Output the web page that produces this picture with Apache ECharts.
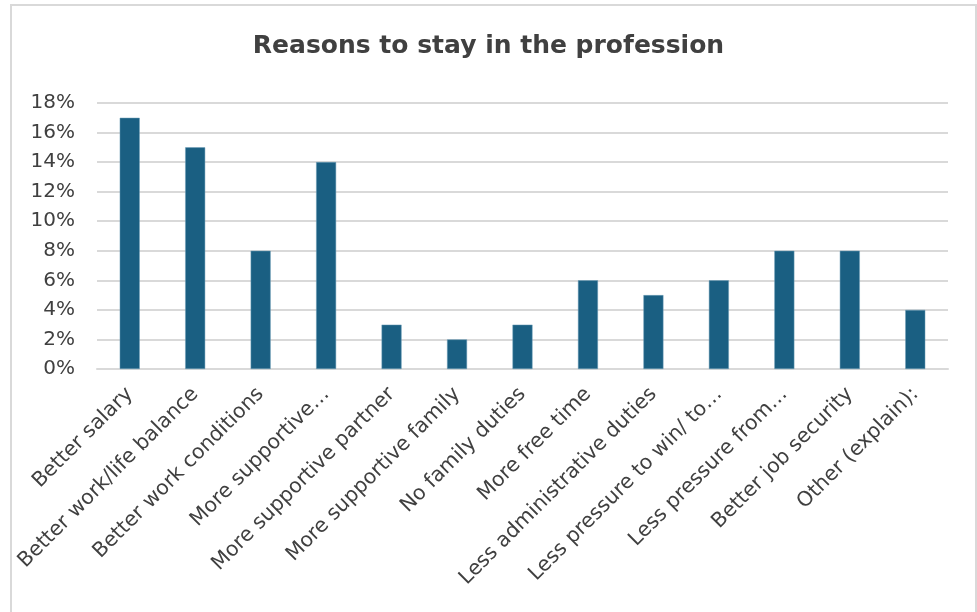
<!DOCTYPE html>
<html><head><meta charset="utf-8">
<script src="https://cdn.jsdelivr.net/npm/echarts@6/dist/echarts.min.js"></script>
<style>html,body{margin:0;padding:0;background:#fff}#c{width:977px;height:612px}</style>
</head><body><div id="c"></div>
<script>
var categories = ["Better salary","Better work/life balance","Better work conditions","More supportive…","More supportive partner","More supportive family","No family duties","More free time","Less administrative duties","Less pressure to win/ to…","Less pressure from…","Better job security","Other (explain):"];
var values = [17,15,8,14,3,2,3,6,5,6,8,8,4];
var yTicks = {min:0, max:18, interval:2};
var titleText = "Reasons to stay in the profession";

var chart = echarts.init(document.getElementById('c'), null, {renderer:'canvas'});
chart.setOption({
  animation:false,
  backgroundColor:'#fff',
  textStyle:{fontFamily:'DejaVu Sans'},
  graphic:[{type:'rect', shape:{x:11,y:5,width:965,height:640}, style:{fill:'none', stroke:'#d9d9d9', lineWidth:2}, silent:true}],
  title:{text:titleText, left:'center', top:29, textStyle:{fontFamily:'DejaVu Sans', fontWeight:'bold', fontSize:25, color:'#404040'}},
  grid:{left:97, right:29, top:103, bottom:243, containLabel:false},
  xAxis:{type:'category', data:categories,
    axisLine:{lineStyle:{color:'#d9d9d9', width:2}}, axisTick:{show:false},
    axisLabel:{rotate:45, interval:0, color:'#404040', fontSize:20.5, margin:22, fontFamily:'DejaVu Sans'}},
  yAxis:{type:'value', min:yTicks.min, max:yTicks.max, interval:yTicks.interval,
    axisLine:{show:false}, axisTick:{show:false},
    axisLabel:{formatter:'{value}%', color:'#404040', fontSize:20, margin:22, fontFamily:'DejaVu Sans'},
    splitLine:{lineStyle:{color:'#d9d9d9', width:2}}},
  series:[{type:'bar', data:values, barWidth:20, itemStyle:{color:'#1a5f82', borderColor:'#6f9fb8', borderWidth:0.5}}]
});
</script></body></html>
